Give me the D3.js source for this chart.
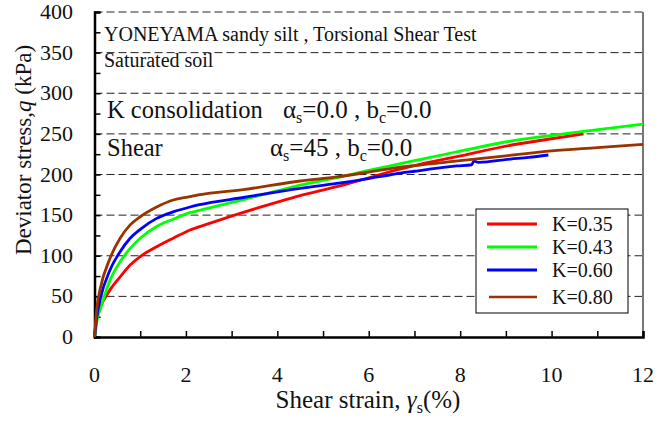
<!DOCTYPE html>
<html lang="en">
<head>
<meta charset="utf-8">
<title>Torsional Shear Test</title>
<script type="text/javascript" src="https://cdn.jsdelivr.net/npm/d3@7"></script>
<style>
body{margin:0;background:#fff;}
</style>
</head>
<body>
<script type="text/javascript">
// chart size
var w = 668;
var h = 421;
var margin = {top: 12, right: 25, bottom: 84, left: 94.5};
var serif = "'Times New Roman', 'Liberation Serif', 'DejaVu Serif', serif";

// shear strain (%) and deviator stress (kPa)
var strainK035 = [0, 0.02, 0.05, 0.12, 0.34, 0.56, 0.78, 1, 1.36, 1.72, 2.09, 2.5, 3.29, 4, 4.5, 5.3, 6, 6.5, 7, 7.93, 9.1, 10, 10.7];
var stressK035 = [0, 12, 25, 36, 58, 74, 88.6, 99, 111, 121.5, 131.7, 139.5, 154, 166, 174, 185, 196, 204, 211, 222, 236, 244, 250];

var strainK043 = [0, 0.03, 0.06, 0.12, 0.34, 0.56, 0.78, 1, 1.36, 1.72, 2.09, 2.27, 3.29, 4.5, 5.3, 6, 6.5, 7, 7.93, 9.1, 10, 10.7, 12];
var stressK043 = [0, 10, 22, 33, 70, 92.7, 109, 121.5, 136, 145, 153, 155.5, 169.5, 187, 196, 205, 211, 217, 228, 241, 248, 253, 262];

var strainK060 = [0, 0.03, 0.06, 0.12, 0.34, 0.56, 0.78, 1, 1.36, 1.72, 2.09, 2.27, 3.29, 4.5, 5.3, 6, 6.5, 7, 7.93, 8.25, 8.3, 8.4, 9.1, 9.5, 9.93];
var stressK060 = [0, 15, 28, 45.5, 82.5, 105, 121.5, 132.5, 146, 154, 160, 162.5, 172, 183, 189, 195, 200, 204, 210.5, 212, 216.5, 215, 219, 221, 224];

var strainK080 = [0, 0.02, 0.05, 0.12, 0.34, 0.56, 0.78, 1, 1.36, 1.72, 2.09, 2.27, 3.29, 4.5, 5.3, 6, 6.5, 7, 8, 9, 10, 11, 12];
var stressK080 = [0, 15, 35, 58, 97, 121.5, 138, 148, 160, 168.6, 172.7, 174.8, 181.7, 192, 197, 203, 207.5, 211, 217, 223, 229, 233, 237];

var seriesNames = ["K=0.35", "K=0.43", "K=0.60", "K=0.80"];
var seriesColors = ["#ff0000", "#00ff00", "#0000ff", "#993300"];
var seriesStrain = [strainK035, strainK043, strainK060, strainK080];
var seriesStress = [stressK035, stressK043, stressK060, stressK080];

var xTicks = [0, 2, 4, 6, 8, 10, 12];
var yTicks = [0, 50, 100, 150, 200, 250, 300, 350, 400];

var svg = d3.select("body")
            .append("svg")
            .attr("width", w)
            .attr("height", h)
            .attr("font-family", serif);

var x = d3.scaleLinear().domain([0, 12]).range([margin.left, w - margin.right]);
var y = d3.scaleLinear().domain([0, 400]).range([h - margin.bottom, margin.top]);

// dashed grid lines (top one doubles as the frame)
svg.selectAll("line.grid")
   .data(yTicks.slice(1))
   .enter()
   .append("line")
   .attr("class", "grid")
   .attr("x1", x(0))
   .attr("x2", x(12))
   .attr("y1", function(d){ return y(d); })
   .attr("y2", function(d){ return y(d); })
   .attr("stroke", "#222")
   .attr("stroke-width", 1)
   .attr("stroke-dasharray", "8,4");

// right frame, gray
svg.append("line")
   .attr("x1", x(12)).attr("x2", x(12))
   .attr("y1", y(400)).attr("y2", y(0))
   .attr("stroke", "#777")
   .attr("stroke-width", 2);

// axes with inside ticks
var xAxis = d3.axisBottom(x)
              .tickValues(d3.range(0, 13, 1))
              .tickSize(-6)
              .tickFormat("");
var yAxis = d3.axisLeft(y)
              .tickValues(d3.range(0, 401, 25))
              .tickSize(-6)
              .tickFormat("");

var gx = svg.append("g")
            .attr("transform", "translate(0," + y(0) + ")")
            .call(xAxis);
var gy = svg.append("g")
            .attr("transform", "translate(" + x(0) + ",0)")
            .call(yAxis);
gx.select(".domain").attr("stroke", "#000").attr("stroke-width", 2.5);
gy.select(".domain").attr("stroke", "#000").attr("stroke-width", 2.5);
gx.selectAll(".tick line").attr("stroke", "#000").attr("stroke-width", 1.5);
gy.selectAll(".tick line").attr("stroke", "#000").attr("stroke-width", 1.5);

// tick labels
svg.selectAll("text.xlab")
   .data(xTicks)
   .enter()
   .append("text")
   .attr("class", "xlab")
   .attr("x", function(d){ return x(d); })
   .attr("y", 382)
   .attr("text-anchor", "middle")
   .attr("font-size", "22px")
   .attr("fill", "#111")
   .text(function(d){ return d; });

svg.selectAll("text.ylab")
   .data(yTicks)
   .enter()
   .append("text")
   .attr("class", "ylab")
   .attr("x", 73)
   .attr("y", function(d){ return y(d) + 7; })
   .attr("text-anchor", "end")
   .attr("font-size", "22px")
   .attr("fill", "#111")
   .text(function(d){ return d; });

// curves
var line = d3.line()
             .x(function(d){ return x(d[0]); })
             .y(function(d){ return y(d[1]); })
             .curve(d3.curveMonotoneX);

seriesNames.forEach(function(name, i){
  var pts = seriesStrain[i].map(function(s, j){ return [s, seriesStress[i][j]]; });
  svg.append("path")
     .datum(pts)
     .attr("d", line)
     .attr("fill", "none")
     .attr("stroke", seriesColors[i])
     .attr("stroke-width", 2.8);
});

// annotations
svg.append("text")
   .attr("x", 104).attr("y", 41)
   .attr("font-size", "20px")
   .attr("fill", "#111")
   .text("YONEYAMA sandy silt , Torsional Shear Test");
svg.append("text")
   .attr("x", 104).attr("y", 67)
   .attr("font-size", "20px")
   .attr("fill", "#111")
   .text("Saturated soil");

function condition(label, yy, ax, alpha){
  svg.append("text")
     .attr("x", 107).attr("y", yy)
     .attr("font-size", "24.5px")
     .attr("fill", "#111")
     .text(label);
  var t = svg.append("text")
             .attr("x", ax).attr("y", yy)
             .attr("font-size", "25px")
             .attr("fill", "#111");
  t.append("tspan").text("\u03b1");
  t.append("tspan").attr("font-size", "16px").attr("dy", 5).text("s");
  t.append("tspan").attr("dy", -5).text("=" + alpha + " , b");
  t.append("tspan").attr("font-size", "16px").attr("dy", 5).text("c");
  t.append("tspan").attr("dy", -5).text("=0.0");
}
condition("K consolidation", 117.5, 283, "0.0");
condition("Shear", 156, 270, "45");

// legend
var legend = svg.append("g");
legend.append("rect")
      .attr("x", 476).attr("y", 209)
      .attr("width", 152).attr("height", 104)
      .attr("fill", "#fff")
      .attr("stroke", "#000")
      .attr("stroke-width", 1);
var legendY = [224, 247, 270, 297];
legend.selectAll("line")
      .data(seriesNames)
      .enter()
      .append("line")
      .attr("x1", function(d, i){ return i == 3 ? 489 : 487; })
      .attr("x2", 537)
      .attr("y1", function(d, i){ return legendY[i]; })
      .attr("y2", function(d, i){ return legendY[i]; })
      .attr("stroke", function(d, i){ return seriesColors[i]; })
      .attr("stroke-width", function(d, i){ return i == 3 ? 2.5 : 3; });
legend.selectAll("text")
      .data(seriesNames)
      .enter()
      .append("text")
      .attr("x", 552)
      .attr("y", function(d, i){ return legendY[i] + 7; })
      .attr("font-size", "20px")
      .attr("fill", "#111")
      .text(function(d){ return d; });

// axis titles
var xt = svg.append("text")
            .attr("x", 368).attr("y", 408)
            .attr("text-anchor", "middle")
            .attr("font-size", "25px")
            .attr("fill", "#111");
xt.append("tspan").text("Shear strain, ");
xt.append("tspan").attr("font-style", "italic").text("\u03b3");
xt.append("tspan").attr("font-size", "16px").attr("dy", 5).text("s");
xt.append("tspan").attr("dy", -5).text("(%)");

var yt = svg.append("text")
            .attr("transform", "translate(31,150) rotate(-90)")
            .attr("text-anchor", "middle")
            .attr("font-size", "23px")
            .attr("fill", "#111");
yt.append("tspan").text("Deviator stress,");
yt.append("tspan").attr("font-style", "italic").text("q");
yt.append("tspan").text(" (kPa)");
</script>
</body>
</html>
